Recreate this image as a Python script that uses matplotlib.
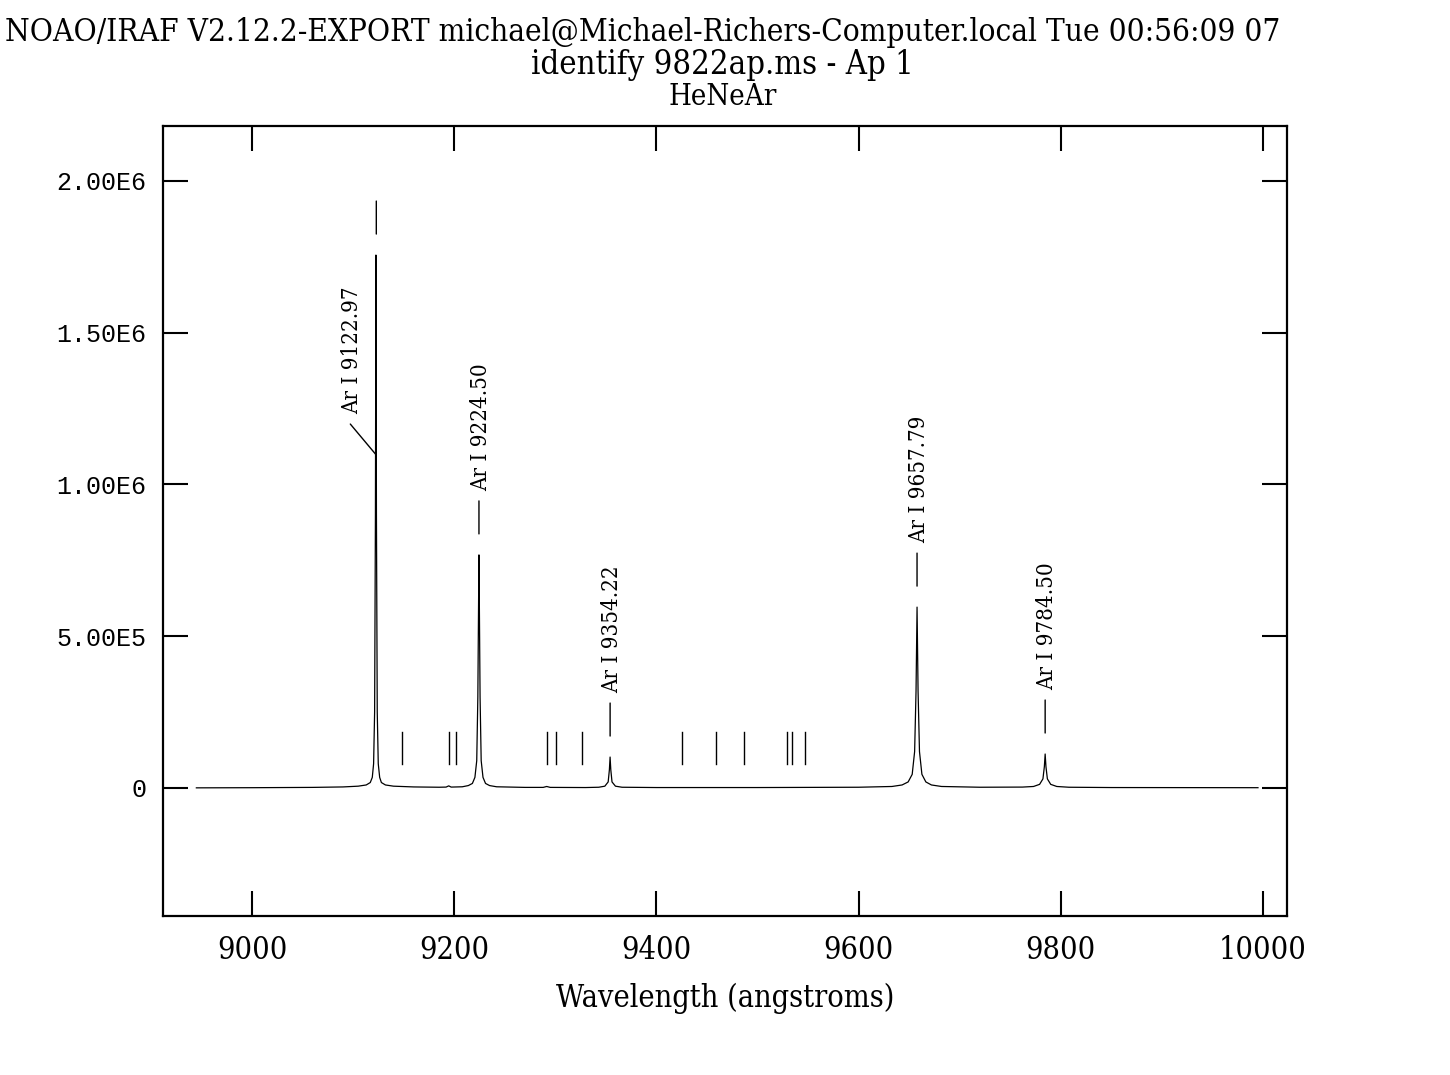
# IRAF identify plot of a HeNeAr arc spectrum
import matplotlib
matplotlib.use('Agg')
import matplotlib.pyplot as plt
from matplotlib.transforms import offset_copy

# spectrum samples (wavelength in angstroms, counts)
wave = [8945, 9000, 9060, 9090, 9105, 9113, 9117, 9119, 9120.3, 9121.3, 9122.1,
        9122.6, 9123.1, 9123.9, 9124.9, 9126.3, 9128, 9132, 9140, 9160, 9185,
        9192, 9194.6, 9197, 9208, 9214, 9218, 9220.5, 9222.3, 9223.4, 9224.0,
        9224.5, 9225.0, 9225.6, 9226.7, 9228.5, 9231, 9235, 9242, 9270, 9288,
        9291.5, 9295, 9330, 9343, 9349, 9352.3, 9353.5, 9354.2, 9354.9, 9356.1,
        9359.5, 9366, 9400, 9500, 9600, 9633, 9643, 9649, 9653, 9655.4, 9656.8,
        9657.8, 9658.8, 9660.2, 9662.6, 9666.5, 9672, 9682, 9720, 9762, 9773,
        9779, 9782.3, 9783.7, 9784.5, 9785.3, 9786.7, 9790, 9796, 9808, 9850,
        9995]
flux = [500, 1000, 2000, 3500, 6000, 10000, 18000, 35000, 80000, 250000, 900000,
        1756000, 900000, 250000, 80000, 35000, 18000, 10000, 6000, 3500, 2500,
        3000, 7000, 3000, 4000, 8000, 15000, 35000, 90000, 300000, 560000,
        768000, 560000, 300000, 90000, 35000, 15000, 8000, 4000, 2000, 2000,
        5000, 2000, 1500, 2500, 6000, 20000, 60000, 102000, 60000, 20000,
        6000, 2500, 1500, 1500, 2500, 5000, 10000, 20000, 45000, 120000, 320000,
        596000, 320000, 120000, 45000, 20000, 10000, 5000, 2500, 3000, 5000,
        12000, 30000, 70000, 112000, 70000, 30000, 12000, 5000, 2500, 1500,
        1000]

# identified lines
id_wave = [9122.97, 9224.50, 9354.22, 9657.79, 9784.50]
id_peak = [1756000, 768000, 102000, 596000, 112000]
id_label = ['Ar I 9122.97', 'Ar I 9224.50', 'Ar I 9354.22', 'Ar I 9657.79', 'Ar I 9784.50']

# unidentified line list marks
mark_wave = [9148.67, 9194.64, 9201.76, 9291.53, 9300.85, 9326.51, 9425.38,
             9459.21, 9486.68, 9529.5, 9534.16, 9547.40]
mark_lo = 79000
mark_hi = 185000

xticks = [9000, 9200, 9400, 9600, 9800, 10000]
yticks = [0, 500000, 1000000, 1500000, 2000000]
ylabels = ['0', '5.00E5', '1.00E6', '1.50E6', '2.00E6']

serif = dict(family='DejaVu Serif', stretch='condensed')


def seg(ax, fig, w, p, dx0, dy0, dx1, dy1):
    # line segment between two pixel offsets from a data point
    t0 = offset_copy(ax.transData, fig=fig, x=dx0, y=dy0, units='dots')
    t1 = offset_copy(ax.transData, fig=fig, x=dx1, y=dy1, units='dots')
    ax.annotate('', xy=(w, p), xytext=(w, p), xycoords=t0, textcoords=t1,
                arrowprops=dict(arrowstyle='-', color='black', lw=1.0,
                                shrinkA=0, shrinkB=0))


fig = plt.figure(figsize=(14.5, 10.75), dpi=100)
ax = fig.add_axes([163/1450, 1-916/1075, 1124/1450, 790/1075])

ax.plot(wave, flux, color='black', linewidth=0.9)

for w in mark_wave:
    ax.plot([w, w], [mark_lo, mark_hi], color='black', linewidth=1.0)

for i in range(len(id_wave)):
    w = id_wave[i]
    p = id_peak[i]
    seg(ax, fig, w, p, 0, 21, 0, 54)
    if i == 0:
        # label pushed down beside the line with a leader
        seg(ax, fig, w, p, 0, -200, -26, -169)
        lab = offset_copy(ax.transData, fig=fig, x=-24, y=-159, units='dots')
    else:
        lab = offset_copy(ax.transData, fig=fig, x=2, y=64, units='dots')
    ax.text(w, p, id_label[i], transform=lab, rotation=90, ha='center',
            va='bottom', fontsize=16, **serif)

ax.set_xlim(8912, 10023.7)
ax.set_ylim(-421750, 2181200)
ax.set_xticks(xticks)
ax.set_xticklabels([str(v) for v in xticks], fontsize=22, **serif)
ax.set_yticks(yticks)
ax.set_yticklabels(ylabels, fontsize=18, family='Liberation Mono')
ax.tick_params(direction='in', length=18, width=1.5, top=True, right=True,
               color='black')
ax.tick_params(axis='x', pad=14)
ax.tick_params(axis='y', pad=12)
for s in ax.spines.values():
    s.set_linewidth(1.6)

ax.set_xlabel('Wavelength (angstroms)', fontsize=22, labelpad=12, **serif)

fig.text(643/1450, 1-33/1075,
         'NOAO/IRAF V2.12.2-EXPORT michael@Michael-Richers-Computer.local Tue 00:56:09 07',
         ha='center', va='center', fontsize=22.6, **serif)
fig.text(722/1450, 1-65/1075, 'identify 9822ap.ms - Ap 1',
         ha='center', va='center', fontsize=23.5, **serif)
fig.text(723/1450, 1-97/1075, 'HeNeAr',
         ha='center', va='center', fontsize=21, **serif)

fig.savefig('out.png', dpi=100, facecolor='white')
